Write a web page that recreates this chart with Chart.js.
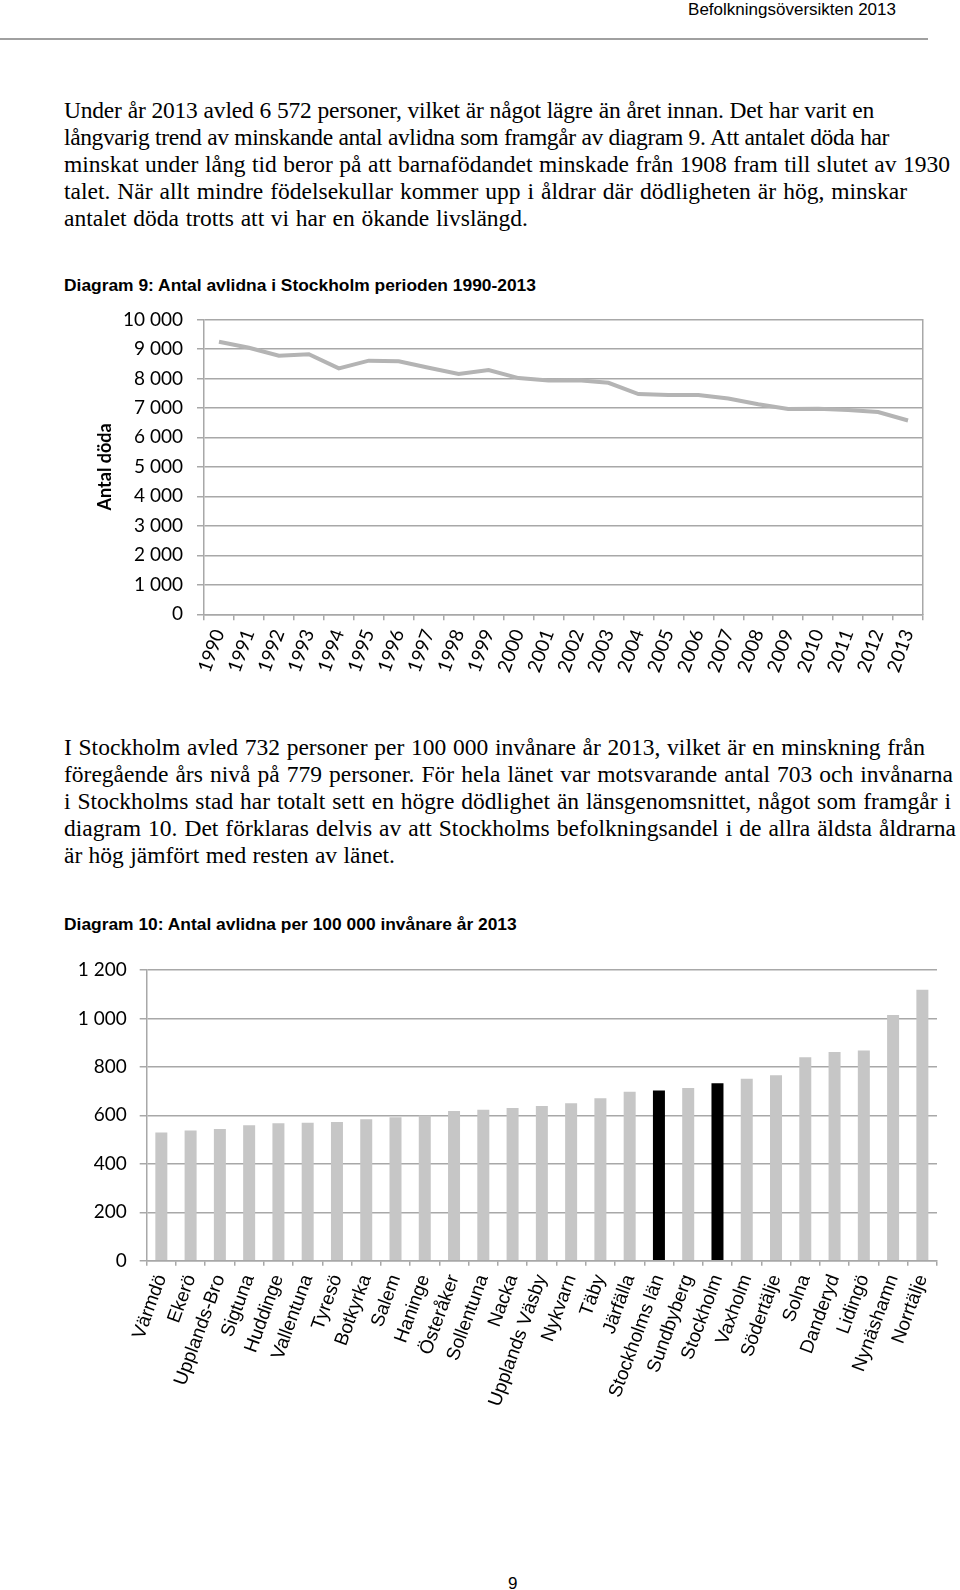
<!DOCTYPE html>
<html lang="sv">
<head>
<meta charset="utf-8">
<script src="https://cdn.jsdelivr.net/npm/chart.js@4"></script>
<style>
  html, body { margin: 0; padding: 0; background: #fff; }
  body { width: 960px; height: 1590px; position: relative; overflow: hidden; }
  .sans { font-family: "Liberation Sans", Arial, sans-serif; font-size: 17px; line-height: 20px; color: #000; position: absolute; white-space: nowrap; }
  .cap { font-size: 17.4px; font-weight: bold; }
  .serif { font-family: "Liberation Serif", "Times New Roman", serif; font-size: 23.5px; line-height: 27px; color: #000; position: absolute; left: 64px; }
  .serif div { white-space: nowrap; word-spacing: -1px; text-align: justify; text-align-last: justify; }
  .rule { position: absolute; left: 0; top: 37.5px; width: 928px; height: 2px; background: #a0a0a0; }
  .box { position: absolute; }
</style>
</head>
<body>
<div class="sans" style="right:64px; top:0px;">Befolkningsöversikten 2013</div>
<div class="rule"></div>

<div class="serif" style="top:97px;">
<div style="width:810px; letter-spacing:-0.2px">Under år 2013 avled 6 572 personer, vilket är något lägre än året innan. Det har varit en</div>
<div style="width:825px; letter-spacing:-0.38px">långvarig trend av minskande antal avlidna som framgår av diagram 9. Att antalet döda har</div>
<div style="width:886px">minskat under lång tid beror på att barnafödandet minskade från 1908 fram till slutet av 1930</div>
<div style="width:843px">talet. När allt mindre födelsekullar kommer upp i åldrar där dödligheten är hög, minskar</div>
<div style="width:464px">antalet döda trotts att vi har en ökande livslängd.</div>
</div>

<div class="sans cap" style="left:64px; top:275px;">Diagram 9: Antal avlidna i Stockholm perioden 1990-2013</div>

<div class="box" style="left:60px; top:294px; width:880px; height:396px;"><canvas id="deathsChart"></canvas></div>

<div class="serif" style="top:734px;">
<div style="width:861px">I Stockholm avled 732 personer per 100 000 invånare år 2013, vilket är en minskning från</div>
<div style="width:889px">föregående års nivå på 779 personer. För hela länet var motsvarande antal 703 och invånarna</div>
<div style="width:887px">i Stockholms stad har totalt sett en högre dödlighet än länsgenomsnittet, något som framgår i</div>
<div style="width:892px">diagram 10. Det förklaras delvis av att Stockholms befolkningsandel i de allra äldsta åldrarna</div>
<div style="width:331px">är hög jämfört med resten av länet.</div>
</div>

<div class="sans cap" style="left:64px; top:914px;">Diagram 10: Antal avlidna per 100 000 invånare år 2013</div>

<div class="box" style="left:60px; top:940px; width:890px; height:500px;"><canvas id="rateChart"></canvas></div>

<div class="sans" style="left:508px; top:1574px;">9</div>

<script>
const years = ['1990', '1991', '1992', '1993', '1994', '1995', '1996', '1997', '1998', '1999', '2000', '2001',
    '2002', '2003', '2004', '2005', '2006', '2007', '2008', '2009', '2010', '2011', '2012', '2013'];
const deaths = [9240, 9040, 8770, 8820, 8340, 8600, 8580, 8360, 8150, 8280, 8010, 7930,
    7940, 7850, 7470, 7440, 7440, 7320, 7120, 6960, 6970, 6930, 6860, 6572];

const municipalities = ['Värmdö', 'Ekerö', 'Upplands-Bro', 'Sigtuna', 'Huddinge', 'Vallentuna', 'Tyresö',
    'Botkyrka', 'Salem', 'Haninge', 'Österåker', 'Sollentuna', 'Nacka', 'Upplands Väsby', 'Nykvarn', 'Täby',
    'Järfälla', 'Stockholms län', 'Sundbyberg', 'Stockholm', 'Vaxholm', 'Södertälje', 'Solna', 'Danderyd',
    'Lidingö', 'Nynäshamn', 'Norrtälje'];
const ratePer100k = [529, 537, 544, 559, 567, 569, 573, 584, 592, 599, 618, 623, 630, 639, 650, 671,
    697, 703, 713, 732, 751, 766, 840, 862, 868, 1014, 1118];
const highlighted = ['Stockholms län', 'Stockholm'];

const gridColor = '#a8a8a8';

function spaced(v){
    return String(v).replace(/\B(?=(\d{3})+(?!\d))/g, ' ');
}

Chart.defaults.font.family = 'Lato';
Chart.defaults.color = '#000';
Chart.defaults.animation = false;

new Chart(document.getElementById('deathsChart'), {
    type: 'line',
    data: {
        labels: years,
        datasets: [{
            data: deaths,
            borderColor: '#b4b4b4',
            borderWidth: 4,
            pointRadius: 0,
            tension: 0
        }]
    },
    options: {
        responsive: true,
        maintainAspectRatio: false,
        layout: { padding: { top: 0, right: 17, left: 0, bottom: 0 } },
        plugins: { legend: { display: false }, tooltip: { enabled: false } },
        scales: {
            x: {
                offset: true,
                grid: { display: true, offset: true, drawOnChartArea: false, color: gridColor, lineWidth: 1.5, tickLength: 6 },
                border: { color: gridColor, width: 1.5 },
                ticks: { autoSkip: false, minRotation: 70, maxRotation: 70, padding: 6, font: { size: 19 } },
                afterFit(scale){ scale.height = 75.7; }
            },
            y: {
                min: 0,
                max: 10000,
                ticks: { stepSize: 1000, padding: 14, font: { size: 19 }, callback: v => spaced(v) },
                grid: { color: gridColor, lineWidth: 1.5, tickLength: 7 },
                border: { color: gridColor, width: 1.5 },
                title: { display: true, text: 'Antal döda', font: { size: 18, weight: 'bold' }, padding: { top: 34, bottom: 0 } },
                afterFit(scale){ scale.width = 144; }
            },
            y2: {
                position: 'right',
                min: 0,
                max: 10000,
                ticks: { display: false },
                grid: { display: false, drawTicks: false },
                border: { display: true, color: gridColor, width: 1.5 },
                afterFit(scale){ scale.width = 0; }
            }
        }
    }
});

new Chart(document.getElementById('rateChart'), {
    type: 'bar',
    data: {
        labels: municipalities,
        datasets: [{
            data: ratePer100k,
            backgroundColor: municipalities.map(m => highlighted.includes(m) ? '#000000' : '#c6c6c6'),
            barPercentage: 0.41,
            categoryPercentage: 1
        }]
    },
    options: {
        responsive: true,
        maintainAspectRatio: false,
        layout: { padding: { top: 30, right: 11, left: 0, bottom: 0 } },
        plugins: { legend: { display: false }, tooltip: { enabled: false } },
        scales: {
            x: {
                grid: { display: true, offset: true, drawOnChartArea: false, color: gridColor, lineWidth: 1.5, tickLength: 5 },
                border: { color: gridColor, width: 1.5 },
                ticks: { autoSkip: false, minRotation: 70, maxRotation: 70, padding: 6,
                    font: { family: '"Liberation Sans", Arial, sans-serif', size: 19 } },
                afterFit(scale){ scale.height = 179.3; }
            },
            y: {
                min: 0,
                max: 1200,
                ticks: { stepSize: 200, padding: 13, font: { size: 19 }, callback: v => spaced(v) },
                grid: { color: gridColor, lineWidth: 1.5, tickLength: 7 },
                border: { color: gridColor, width: 1.5 },
                afterFit(scale){ scale.width = 86.7; }
            }
        }
    }
});
</script>
</body>
</html>
